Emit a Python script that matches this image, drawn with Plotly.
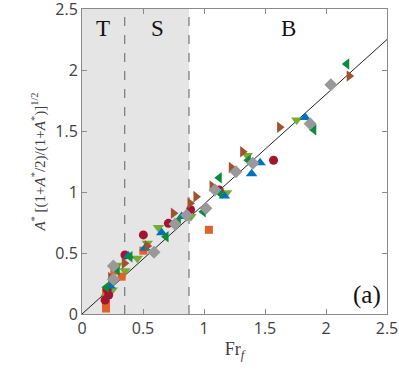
import plotly.graph_objects as go

# regime boundaries on Fr_f
regime_edges = [0.35, 0.877]
regime_labels = ["T", "S", "B"]
regime_label_x = [0.17, 0.62, 1.69]

# reference line through origin
fit_x = [0, 2.5]
fit_slope = 0.9

red_x = [0.189, 0.219, 0.207, 0.352, 0.503, 0.708, 0.89, 1.125, 1.57]
red_y = [0.115, 0.156, 0.20, 0.484, 0.648, 0.743, 0.855, 1.016, 1.26]

orange_x = [0.197, 0.197, 0.197, 0.265, 0.325, 0.503, 1.04]
orange_y = [0.045, 0.085, 0.183, 0.355, 0.306, 0.519, 0.69]

blue_x = [0.23, 0.38, 0.516, 0.653, 0.817, 1.167, 1.39, 1.46, 1.83]
blue_y = [0.23, 0.475, 0.538, 0.667, 0.80, 0.967, 1.15, 1.24, 1.61]

green_x = [0.20, 0.289, 0.393, 0.689, 0.79, 0.994, 1.131, 1.125, 1.363, 1.90, 2.17]
green_y = [0.22, 0.36, 0.47, 0.634, 0.765, 0.839, 0.99, 1.117, 1.26, 1.51, 2.05]

lgreen_x = [0.197, 0.248, 0.289, 0.352, 0.453, 0.535, 0.626, 0.893, 1.186, 1.355, 1.76]
lgreen_y = [0.137, 0.197, 0.40, 0.355, 0.456, 0.58, 0.71, 0.80, 0.994, 1.30, 1.59]

brown_x = [0.235, 0.347, 0.535, 0.749, 0.885, 0.934, 1.066, 1.224, 1.317, 1.62, 2.19]
brown_y = [0.30, 0.415, 0.557, 0.825, 0.907, 0.962, 1.049, 1.20, 1.33, 1.53, 1.95]

gray_x = [0.257, 0.257, 0.59, 0.762, 0.858, 1.016, 1.09, 1.262, 1.40, 1.87, 2.04]
gray_y = [0.284, 0.393, 0.506, 0.738, 0.81, 0.866, 1.016, 1.167, 1.235, 1.56, 1.88]

series = [
    (lgreen_x, lgreen_y, "triangle-down", "#77AC30", 10),
    (orange_x, orange_y, "square", "#E0612A", 8),
    (red_x, red_y, "circle", "#A2142F", 9),
    (blue_x, blue_y, "triangle-up", "#0072BD", 10),
    (green_x, green_y, "triangle-left", "#0A8C3C", 10),
    (brown_x, brown_y, "triangle-right", "#A0522D", 10),
    (gray_x, gray_y, "diamond", "#999999", 10),
]

fig = go.Figure()

# shaded T+S region and dashed boundaries
fig.add_shape(type="rect", x0=0, x1=regime_edges[1], y0=0, y1=2.5,
              fillcolor="#e5e5e5", line_width=0, layer="below")
for xe in regime_edges:
    fig.add_shape(type="line", x0=xe, x1=xe, y0=0, y1=2.5,
                  line=dict(color="#777777", width=1.2, dash="dash"), layer="below")

fig.add_trace(go.Scatter(x=fit_x, y=[fit_slope * v for v in fit_x], mode="lines",
                         line=dict(color="#222222", width=1), showlegend=False))

for xs, ys, sym, col, sz in series:
    fig.add_trace(go.Scatter(x=xs, y=ys, mode="markers", showlegend=False,
                             marker=dict(symbol=sym, color=col, size=sz, line_width=0)))

for lab, lx in zip(regime_labels, regime_label_x):
    fig.add_annotation(x=lx, y=2.34, text=lab, showarrow=False,
                       font=dict(family="Liberation Serif", size=23, color="#111111"))
fig.add_annotation(x=2.34, y=0.155, text="(a)", showarrow=False,
                   font=dict(family="Liberation Serif", size=25, color="#111111"))

axis_style = dict(range=[0, 2.5], dtick=0.5, ticks="inside", ticklen=5, mirror="ticks",
                  showline=True, linecolor="#8a8a8a", tickcolor="#8a8a8a", showgrid=False,
                  zeroline=False, ticklabeloverflow="allow", automargin=False,
                  tickfont=dict(family="Open Sans", size=16, color="#404040"))

fig.update_xaxes(**axis_style, title=dict(text="Fr<sub><i>f</i></sub>", standoff=4,
                 font=dict(family="Liberation Serif", size=18, color="#404040")))
fig.update_yaxes(**axis_style, title=dict(
    text="<i>A</i><sup>*</sup> [(1+<i>A</i><sup>*</sup>/2)/(1+<i>A</i><sup>*</sup>)]<sup>1/2</sup>",
    standoff=6, font=dict(family="Liberation Serif", size=15, color="#404040")))

fig.update_layout(width=399, height=371, plot_bgcolor="white", paper_bgcolor="white",
                  margin=dict(l=82, r=12, t=9, b=57))

# drop the browser's default body margin so the figure sits at the page corner
fig.write_html("out.html", config={"displayModeBar": False},
               post_script="document.body.style.margin='0';")
